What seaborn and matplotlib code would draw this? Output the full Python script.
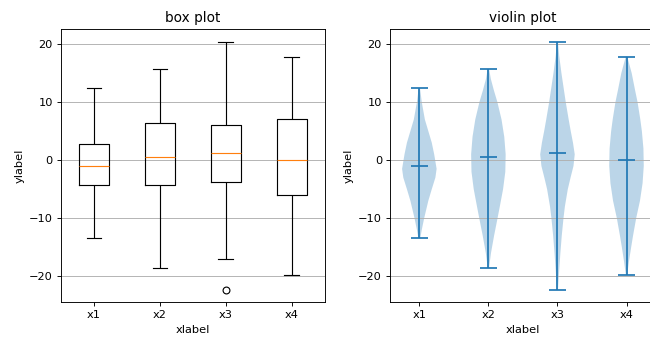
import numpy as np
import pandas as pd
import matplotlib
matplotlib.use("Agg")
import matplotlib.pyplot as plt
import seaborn as sns

# ---- data ----
categories = ["x1", "x2", "x3", "x4"]

# box plot statistics
box_whislo = [-13.5, -18.5, -17.0, -19.75]
box_q1 = [-4.2, -4.2, -3.7, -6.0]
box_med = [-1.05, 0.6, 1.2, 0.1]
box_q3 = [2.75, 6.4, 6.05, 7.0]
box_whishi = [12.35, 15.7, 20.4, 17.85]
box_fliers = [[], [], [-22.35], []]

# violin plot: medians, extrema and relative density profiles
vio_median = [-1.05, 0.6, 1.2, 0.1]
vio_min = [-13.5, -18.5, -22.35, -19.75]
vio_max = [12.35, 15.7, 20.4, 17.85]
vio_y1 = [12.35, 10, 7, 5, 3, 1, -1.5, -3, -5, -7, -10, -12, -13.5]
vio_d1 = [0.04, 0.14, 0.32, 0.52, 0.72, 0.86, 1.0, 0.93, 0.72, 0.52, 0.28, 0.14, 0.05]
vio_y2 = [15.7, 14, 12, 10, 7, 4, 1, -2, -5, -8, -10, -13, -16, -18.5]
vio_d2 = [0.04, 0.14, 0.32, 0.52, 0.76, 0.92, 1.0, 0.98, 0.85, 0.66, 0.53, 0.33, 0.15, 0.04]
vio_y3 = [20.4, 18, 15, 12, 10, 7, 5, 3, 1, -1, -3, -5, -8, -10, -13, -16, -19, -22.35]
vio_d3 = [0.03, 0.1, 0.23, 0.38, 0.48, 0.65, 0.77, 0.9, 1.0, 0.93, 0.76, 0.6, 0.43, 0.35, 0.25, 0.17, 0.1, 0.03]
vio_y4 = [17.85, 15, 12, 10, 7, 5, 2, -1, -4, -7, -10, -13, -15, -17.5, -19.75]
vio_d4 = [0.04, 0.3, 0.5, 0.64, 0.8, 0.89, 0.98, 1.0, 0.93, 0.78, 0.56, 0.38, 0.27, 0.14, 0.04]


def summary_points(lo, q1, med, q3, hi, fliers):
    """Points whose quartiles/whiskers reproduce the read statistics."""
    low_f = [f for f in fliers if f < lo]
    high_f = [f for f in fliers if f > hi]
    pts = low_f + [lo] * (1 + len(high_f)) + [q1, q1, med, q3, q3] + [hi] * (1 + len(low_f)) + high_f
    return pts


rows = []
for i, cat in enumerate(categories):
    for v in summary_points(box_whislo[i], box_q1[i], box_med[i], box_q3[i],
                            box_whishi[i], box_fliers[i]):
        rows.append({"cat": cat, "val": v})
box_df = pd.DataFrame(rows)

DPI = 82
fig = plt.figure(figsize=(650 / DPI, 339 / DPI), dpi=DPI)
ax1 = fig.add_axes([0.0938, 0.1083, 0.406, 0.8053])
ax2 = fig.add_axes([0.600, 0.1083, 0.409, 0.8053])

# ---- box plot (seaborn) ----
sns.boxplot(data=box_df, x="cat", y="val", order=categories, ax=ax1,
            fill=False, color="black", linecolor="black", linewidth=1,
            width=0.45, whis=1.5,
            medianprops=dict(color="#ff7f0e", linewidth=1),
            flierprops=dict(marker="o", markerfacecolor="none",
                            markeredgecolor="black", markersize=6))
ax1.set_title("box plot")
ax1.set_xlabel("xlabel")
ax1.set_ylabel("ylabel")
ax1.yaxis.grid(True)
ax1.xaxis.grid(False)

# ---- violin plot ----
vpstats = []
for ys, ds, md, mn, mx in zip([vio_y1, vio_y2, vio_y3, vio_y4],
                              [vio_d1, vio_d2, vio_d3, vio_d4],
                              vio_median, vio_min, vio_max):
    vpstats.append(dict(coords=np.array(ys[::-1]), vals=np.array(ds[::-1]),
                        mean=md, median=md, min=mn, max=mx))
ax2.violin(vpstats, positions=[1, 2, 3, 4], widths=0.5,
           showmeans=False, showextrema=True, showmedians=True)
ax2.set_xticks([1, 2, 3, 4])
ax2.set_xticklabels(categories)
ax2.set_title("violin plot")
ax2.set_xlabel("xlabel")
ax2.set_ylabel("ylabel")
ax2.yaxis.grid(True)

fig.savefig("out.png", dpi=DPI)
